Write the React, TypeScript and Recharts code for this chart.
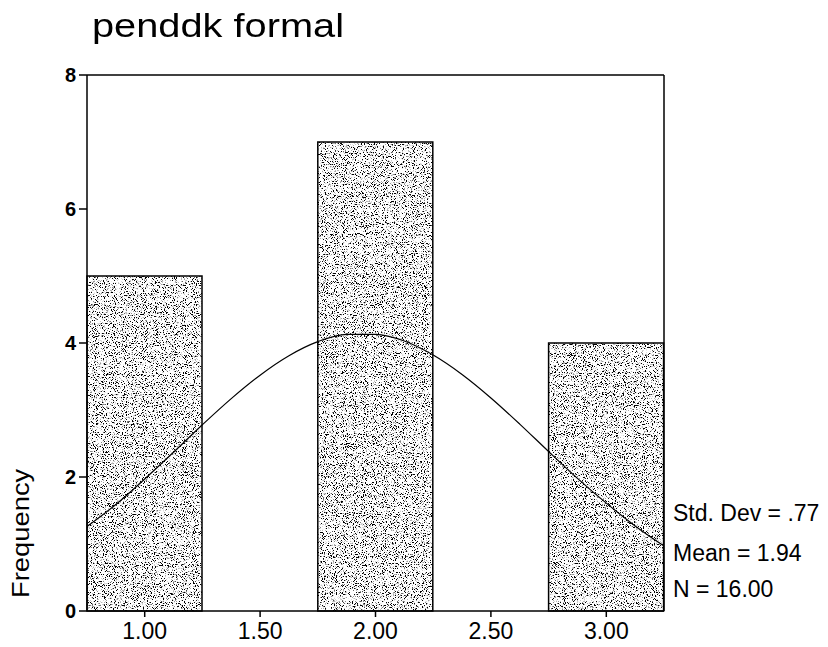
import {
  ComposedChart,
  Bar,
  Line,
  XAxis,
  YAxis,
  ReferenceLine,
} from 'recharts';

// histogram bins (width .50) and their counts
const BIN_LABELS = ['1.00', '1.50', '2.00', '2.50', '3.00'];
const BIN_COUNTS = [5, 0, 7, 0, 4];

// fitted normal curve
const CURVE_X = [0.75, 0.875, 1.0, 1.125, 1.25, 1.375, 1.5, 1.625, 1.75, 1.875, 2.0, 2.125, 2.25, 2.375, 2.5, 2.625, 2.75, 2.875, 3.0, 3.125, 3.25];
const CURVE_Y = [1.26, 1.59, 1.97, 2.37, 2.78, 3.17, 3.52, 3.81, 4.02, 4.13, 4.13, 4.03, 3.82, 3.53, 3.18, 2.79, 2.38, 1.98, 1.61, 1.27, 0.97];

const Y_TICKS = [0, 2, 4, 6, 8];
const STATS = ['Std. Dev = .77', 'Mean = 1.94', 'N = 16.00'];

const FONT = '"Liberation Sans", Arial, sans-serif';

const binData = BIN_LABELS.map((label, i) => ({ label, count: BIN_COUNTS[i] }));
const curveData = CURVE_X.map((x, i) => ({ x, y: CURVE_Y[i] }));

function StippleBar(props: any) {
  const { x, y, width, height } = props;
  if (!height) return null;
  return (
    <g>
      <rect x={x} y={y} width={width} height={height} fill="#fff" filter="url(#stipple)" />
      <rect x={x} y={y} width={width} height={height} fill="none" stroke="#000" strokeWidth={1.5} />
    </g>
  );
}

export default function App() {
  return (
    <div style={{ position: 'absolute', left: 0, top: 0, width: 828, height: 647, background: '#fff', fontFamily: FONT }}>
      <div
        style={{
          position: 'absolute',
          left: 92,
          top: 8,
          fontSize: 34,
          lineHeight: '34px',
          color: '#000',
          whiteSpace: 'nowrap',
          transform: 'scaleX(1.17)',
          transformOrigin: '0 0',
        }}
      >
        penddk formal
      </div>
      <div
        style={{
          position: 'absolute',
          left: 0,
          top: 0,
          fontSize: 24,
          lineHeight: '24px',
          color: '#000',
          whiteSpace: 'nowrap',
          transform: 'translate(9px, 598px) rotate(-90deg) scaleX(1.14)',
          transformOrigin: '0 0',
        }}
      >
        Frequency
      </div>
      {STATS.map((s, i) => (
        <div
          key={s}
          style={{
            position: 'absolute',
            left: 673,
            top: [502, 542, 578][i],
            fontSize: 23,
            lineHeight: '23px',
            color: '#000',
            whiteSpace: 'nowrap',
          }}
        >
          {s}
        </div>
      ))}

      <ComposedChart
        width={828}
        height={647}
        data={binData}
        barCategoryGap={0}
        margin={{ top: 75, right: 164, bottom: 0, left: 47 }}
        style={{ position: 'absolute', left: 0, top: 0 }}
      >
        <defs>
          <filter id="stipple" x="0" y="0" width="1" height="1" filterUnits="objectBoundingBox">
            <feTurbulence type="fractalNoise" baseFrequency="0.9" numOctaves={2} seed={7} result="noise" />
            <feColorMatrix
              in="noise"
              type="matrix"
              values="0 0 0 0 0  0 0 0 0 0  0 0 0 0 0  10 0 0 0 -5.4"
              result="dots"
            />
            <feFlood floodColor="#fff" result="bg" />
            <feMerge>
              <feMergeNode in="bg" />
              <feMergeNode in="dots" />
            </feMerge>
          </filter>
        </defs>
        <XAxis
          dataKey="label"
          interval={0}
          height={36}
          tickSize={6}
          tickMargin={6}
          axisLine={{ stroke: '#000', strokeWidth: 1.5 }}
          tickLine={{ stroke: '#000', strokeWidth: 1.5 }}
          tick={{ fill: '#000', fontSize: 23, fontFamily: FONT }}
        />
        <XAxis xAxisId="curve" dataKey="x" type="number" domain={[0.75, 3.25]} hide allowDataOverflow />
        <YAxis
          domain={[0, 8]}
          ticks={Y_TICKS}
          width={40}
          tickSize={8}
          tickMargin={3}
          axisLine={{ stroke: '#000', strokeWidth: 1.5 }}
          tickLine={{ stroke: '#000', strokeWidth: 1.5 }}
          tick={{ fill: '#000', fontSize: 20, fontWeight: 700, fontFamily: FONT }}
        />
        <ReferenceLine y={8} stroke="#000" strokeWidth={1.5} />
        <ReferenceLine x={3.25} xAxisId="curve" stroke="#000" strokeWidth={1.5} />
        <Bar dataKey="count" shape={<StippleBar />} isAnimationActive={false} />
        <Line
          xAxisId="curve"
          data={curveData}
          dataKey="y"
          type="monotone"
          stroke="#000"
          strokeWidth={1.2}
          dot={false}
          isAnimationActive={false}
        />
      </ComposedChart>
    </div>
  );
}
